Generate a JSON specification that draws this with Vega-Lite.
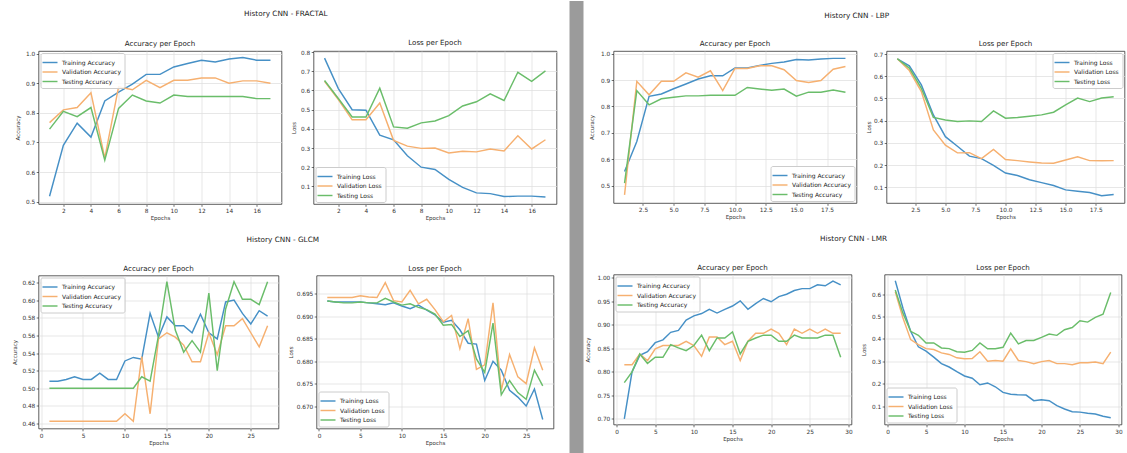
{
"$schema": "https://vega.github.io/schema/vega-lite/v6.json",
"background": "white",
"padding": {"left": 11.5, "top": 0, "right": 0, "bottom": 0},
"config": {
  "font": "DejaVu Sans",
  "view": {"stroke": "#333333", "strokeWidth": 0.8},
  "axis": {"labelFontSize": 5.8, "titleFontSize": 5.5, "titleFontWeight": "normal", "tickSize": 2.3, "labelPadding": 1.4, "titlePadding": 2, "domain": false, "gridColor": "#dddddd", "gridWidth": 0.7, "tickColor": "#333333", "tickWidth": 0.7, "labelColor": "#333333", "titleColor": "#333333", "labelFlush": false, "labelOverlap": false},
  "title": {"fontSize": 7.3, "fontWeight": "normal", "color": "#222222"},
  "legend": {"labelFontSize": 6, "labelColor": "#222222", "symbolType": "M-1.5,0H1.5", "symbolSize": 100, "symbolStrokeWidth": 1.4, "labelOffset": 6, "padding": 3.5, "rowPadding": 0.5, "fillColor": "rgba(255,255,255,0.85)", "strokeColor": "#cccccc", "cornerRadius": 2, "offset": 2},
  "line": {"strokeWidth": 1.45}
},
"datasets": {
"fractal_acc": [
{"epoch":1,"series":"Training","value":0.518},{"epoch":2,"series":"Training","value":0.69},{"epoch":3,"series":"Training","value":0.765},{"epoch":4,"series":"Training","value":0.718},{"epoch":5,"series":"Training","value":0.84},{"epoch":6,"series":"Training","value":0.87},{"epoch":7,"series":"Training","value":0.897},{"epoch":8,"series":"Training","value":0.93},{"epoch":9,"series":"Training","value":0.93},{"epoch":10,"series":"Training","value":0.955},{"epoch":11,"series":"Training","value":0.967},{"epoch":12,"series":"Training","value":0.978},{"epoch":13,"series":"Training","value":0.972},{"epoch":14,"series":"Training","value":0.982},{"epoch":15,"series":"Training","value":0.987},{"epoch":16,"series":"Training","value":0.978},{"epoch":17,"series":"Training","value":0.978},
{"epoch":1,"series":"Validation","value":0.767},{"epoch":2,"series":"Validation","value":0.81},{"epoch":3,"series":"Validation","value":0.818},{"epoch":4,"series":"Validation","value":0.868},{"epoch":5,"series":"Validation","value":0.647},{"epoch":6,"series":"Validation","value":0.888},{"epoch":7,"series":"Validation","value":0.878},{"epoch":8,"series":"Validation","value":0.91},{"epoch":9,"series":"Validation","value":0.885},{"epoch":10,"series":"Validation","value":0.91},{"epoch":11,"series":"Validation","value":0.91},{"epoch":12,"series":"Validation","value":0.918},{"epoch":13,"series":"Validation","value":0.918},{"epoch":14,"series":"Validation","value":0.9},{"epoch":15,"series":"Validation","value":0.908},{"epoch":16,"series":"Validation","value":0.908},{"epoch":17,"series":"Validation","value":0.9},
{"epoch":1,"series":"Testing","value":0.745},{"epoch":2,"series":"Testing","value":0.805},{"epoch":3,"series":"Testing","value":0.787},{"epoch":4,"series":"Testing","value":0.818},{"epoch":5,"series":"Testing","value":0.64},{"epoch":6,"series":"Testing","value":0.815},{"epoch":7,"series":"Testing","value":0.86},{"epoch":8,"series":"Testing","value":0.84},{"epoch":9,"series":"Testing","value":0.833},{"epoch":10,"series":"Testing","value":0.86},{"epoch":11,"series":"Testing","value":0.855},{"epoch":12,"series":"Testing","value":0.855},{"epoch":13,"series":"Testing","value":0.855},{"epoch":14,"series":"Testing","value":0.855},{"epoch":15,"series":"Testing","value":0.855},{"epoch":16,"series":"Testing","value":0.848},{"epoch":17,"series":"Testing","value":0.848}
],
"fractal_loss": [
{"epoch":1,"series":"Training","value":0.769},{"epoch":2,"series":"Training","value":0.61},{"epoch":3,"series":"Training","value":0.5},{"epoch":4,"series":"Training","value":0.497},{"epoch":5,"series":"Training","value":0.367},{"epoch":6,"series":"Training","value":0.343},{"epoch":7,"series":"Training","value":0.26},{"epoch":8,"series":"Training","value":0.2},{"epoch":9,"series":"Training","value":0.188},{"epoch":10,"series":"Training","value":0.136},{"epoch":11,"series":"Training","value":0.095},{"epoch":12,"series":"Training","value":0.066},{"epoch":13,"series":"Training","value":0.062},{"epoch":14,"series":"Training","value":0.047},{"epoch":15,"series":"Training","value":0.049},{"epoch":16,"series":"Training","value":0.049},{"epoch":17,"series":"Training","value":0.045},
{"epoch":1,"series":"Validation","value":0.648},{"epoch":2,"series":"Validation","value":0.553},{"epoch":3,"series":"Validation","value":0.447},{"epoch":4,"series":"Validation","value":0.447},{"epoch":5,"series":"Validation","value":0.535},{"epoch":6,"series":"Validation","value":0.34},{"epoch":7,"series":"Validation","value":0.31},{"epoch":8,"series":"Validation","value":0.298},{"epoch":9,"series":"Validation","value":0.3},{"epoch":10,"series":"Validation","value":0.274},{"epoch":11,"series":"Validation","value":0.283},{"epoch":12,"series":"Validation","value":0.28},{"epoch":13,"series":"Validation","value":0.295},{"epoch":14,"series":"Validation","value":0.285},{"epoch":15,"series":"Validation","value":0.364},{"epoch":16,"series":"Validation","value":0.295},{"epoch":17,"series":"Validation","value":0.343},
{"epoch":1,"series":"Testing","value":0.652},{"epoch":2,"series":"Testing","value":0.558},{"epoch":3,"series":"Testing","value":0.462},{"epoch":4,"series":"Testing","value":0.462},{"epoch":5,"series":"Testing","value":0.612},{"epoch":6,"series":"Testing","value":0.41},{"epoch":7,"series":"Testing","value":0.403},{"epoch":8,"series":"Testing","value":0.431},{"epoch":9,"series":"Testing","value":0.441},{"epoch":10,"series":"Testing","value":0.469},{"epoch":11,"series":"Testing","value":0.519},{"epoch":12,"series":"Testing","value":0.541},{"epoch":13,"series":"Testing","value":0.583},{"epoch":14,"series":"Testing","value":0.548},{"epoch":15,"series":"Testing","value":0.695},{"epoch":16,"series":"Testing","value":0.648},{"epoch":17,"series":"Testing","value":0.702}
],
"lbp_acc": [
{"epoch":1,"series":"Training","value":0.553},{"epoch":2,"series":"Training","value":0.667},{"epoch":3,"series":"Training","value":0.838},{"epoch":4,"series":"Training","value":0.847},{"epoch":5,"series":"Training","value":0.867},{"epoch":6,"series":"Training","value":0.885},{"epoch":7,"series":"Training","value":0.904},{"epoch":8,"series":"Training","value":0.916},{"epoch":9,"series":"Training","value":0.916},{"epoch":10,"series":"Training","value":0.946},{"epoch":11,"series":"Training","value":0.946},{"epoch":12,"series":"Training","value":0.955},{"epoch":13,"series":"Training","value":0.963},{"epoch":14,"series":"Training","value":0.968},{"epoch":15,"series":"Training","value":0.978},{"epoch":16,"series":"Training","value":0.976},{"epoch":17,"series":"Training","value":0.98},{"epoch":18,"series":"Training","value":0.982},{"epoch":19,"series":"Training","value":0.982},
{"epoch":1,"series":"Validation","value":0.465},{"epoch":2,"series":"Validation","value":0.895},{"epoch":3,"series":"Validation","value":0.844},{"epoch":4,"series":"Validation","value":0.895},{"epoch":5,"series":"Validation","value":0.895},{"epoch":6,"series":"Validation","value":0.927},{"epoch":7,"series":"Validation","value":0.911},{"epoch":8,"series":"Validation","value":0.935},{"epoch":9,"series":"Validation","value":0.86},{"epoch":10,"series":"Validation","value":0.944},{"epoch":11,"series":"Validation","value":0.944},{"epoch":12,"series":"Validation","value":0.954},{"epoch":13,"series":"Validation","value":0.954},{"epoch":14,"series":"Validation","value":0.939},{"epoch":15,"series":"Validation","value":0.898},{"epoch":16,"series":"Validation","value":0.891},{"epoch":17,"series":"Validation","value":0.898},{"epoch":18,"series":"Validation","value":0.941},{"epoch":19,"series":"Validation","value":0.951},
{"epoch":1,"series":"Testing","value":0.509},{"epoch":2,"series":"Testing","value":0.86},{"epoch":3,"series":"Testing","value":0.806},{"epoch":4,"series":"Testing","value":0.829},{"epoch":5,"series":"Testing","value":0.835},{"epoch":6,"series":"Testing","value":0.84},{"epoch":7,"series":"Testing","value":0.84},{"epoch":8,"series":"Testing","value":0.842},{"epoch":9,"series":"Testing","value":0.842},{"epoch":10,"series":"Testing","value":0.842},{"epoch":11,"series":"Testing","value":0.872},{"epoch":12,"series":"Testing","value":0.866},{"epoch":13,"series":"Testing","value":0.861},{"epoch":14,"series":"Testing","value":0.866},{"epoch":15,"series":"Testing","value":0.839},{"epoch":16,"series":"Testing","value":0.854},{"epoch":17,"series":"Testing","value":0.854},{"epoch":18,"series":"Testing","value":0.862},{"epoch":19,"series":"Testing","value":0.854}
],
"lbp_loss": [
{"epoch":1,"series":"Training","value":0.679},{"epoch":2,"series":"Training","value":0.647},{"epoch":3,"series":"Training","value":0.561},{"epoch":4,"series":"Training","value":0.426},{"epoch":5,"series":"Training","value":0.328},{"epoch":6,"series":"Training","value":0.285},{"epoch":7,"series":"Training","value":0.24},{"epoch":8,"series":"Training","value":0.229},{"epoch":9,"series":"Training","value":0.199},{"epoch":10,"series":"Training","value":0.164},{"epoch":11,"series":"Training","value":0.153},{"epoch":12,"series":"Training","value":0.134},{"epoch":13,"series":"Training","value":0.121},{"epoch":14,"series":"Training","value":0.108},{"epoch":15,"series":"Training","value":0.088},{"epoch":16,"series":"Training","value":0.082},{"epoch":17,"series":"Training","value":0.076},{"epoch":18,"series":"Training","value":0.062},{"epoch":19,"series":"Training","value":0.067},
{"epoch":1,"series":"Validation","value":0.679},{"epoch":2,"series":"Validation","value":0.626},{"epoch":3,"series":"Validation","value":0.531},{"epoch":4,"series":"Validation","value":0.358},{"epoch":5,"series":"Validation","value":0.29},{"epoch":6,"series":"Validation","value":0.255},{"epoch":7,"series":"Validation","value":0.256},{"epoch":8,"series":"Validation","value":0.229},{"epoch":9,"series":"Validation","value":0.27},{"epoch":10,"series":"Validation","value":0.225},{"epoch":11,"series":"Validation","value":0.22},{"epoch":12,"series":"Validation","value":0.214},{"epoch":13,"series":"Validation","value":0.209},{"epoch":14,"series":"Validation","value":0.208},{"epoch":15,"series":"Validation","value":0.223},{"epoch":16,"series":"Validation","value":0.237},{"epoch":17,"series":"Validation","value":0.22},{"epoch":18,"series":"Validation","value":0.219},{"epoch":19,"series":"Validation","value":0.22},
{"epoch":1,"series":"Testing","value":0.679},{"epoch":2,"series":"Testing","value":0.637},{"epoch":3,"series":"Testing","value":0.546},{"epoch":4,"series":"Testing","value":0.415},{"epoch":5,"series":"Testing","value":0.403},{"epoch":6,"series":"Testing","value":0.396},{"epoch":7,"series":"Testing","value":0.399},{"epoch":8,"series":"Testing","value":0.396},{"epoch":9,"series":"Testing","value":0.444},{"epoch":10,"series":"Testing","value":0.411},{"epoch":11,"series":"Testing","value":0.414},{"epoch":12,"series":"Testing","value":0.42},{"epoch":13,"series":"Testing","value":0.426},{"epoch":14,"series":"Testing","value":0.438},{"epoch":15,"series":"Testing","value":0.471},{"epoch":16,"series":"Testing","value":0.502},{"epoch":17,"series":"Testing","value":0.486},{"epoch":18,"series":"Testing","value":0.502},{"epoch":19,"series":"Testing","value":0.508}
],
"glcm_acc": [
{"epoch":1,"series":"Training","value":0.508},{"epoch":2,"series":"Training","value":0.508},{"epoch":3,"series":"Training","value":0.51},{"epoch":4,"series":"Training","value":0.513},{"epoch":5,"series":"Training","value":0.51},{"epoch":6,"series":"Training","value":0.51},{"epoch":7,"series":"Training","value":0.517},{"epoch":8,"series":"Training","value":0.51},{"epoch":9,"series":"Training","value":0.51},{"epoch":10,"series":"Training","value":0.531},{"epoch":11,"series":"Training","value":0.535},{"epoch":12,"series":"Training","value":0.533},{"epoch":13,"series":"Training","value":0.585},{"epoch":14,"series":"Training","value":0.558},{"epoch":15,"series":"Training","value":0.581},{"epoch":16,"series":"Training","value":0.571},{"epoch":17,"series":"Training","value":0.571},{"epoch":18,"series":"Training","value":0.563},{"epoch":19,"series":"Training","value":0.584},{"epoch":20,"series":"Training","value":0.563},{"epoch":21,"series":"Training","value":0.556},{"epoch":22,"series":"Training","value":0.598},{"epoch":23,"series":"Training","value":0.6},{"epoch":24,"series":"Training","value":0.585},{"epoch":25,"series":"Training","value":0.573},{"epoch":26,"series":"Training","value":0.588},{"epoch":27,"series":"Training","value":0.582},
{"epoch":1,"series":"Validation","value":0.4625},{"epoch":2,"series":"Validation","value":0.4625},{"epoch":3,"series":"Validation","value":0.4625},{"epoch":4,"series":"Validation","value":0.4625},{"epoch":5,"series":"Validation","value":0.4625},{"epoch":6,"series":"Validation","value":0.4625},{"epoch":7,"series":"Validation","value":0.4625},{"epoch":8,"series":"Validation","value":0.4625},{"epoch":9,"series":"Validation","value":0.4625},{"epoch":10,"series":"Validation","value":0.471},{"epoch":11,"series":"Validation","value":0.4625},{"epoch":12,"series":"Validation","value":0.536},{"epoch":13,"series":"Validation","value":0.471},{"epoch":14,"series":"Validation","value":0.556},{"epoch":15,"series":"Validation","value":0.563},{"epoch":16,"series":"Validation","value":0.558},{"epoch":17,"series":"Validation","value":0.549},{"epoch":18,"series":"Validation","value":0.53},{"epoch":19,"series":"Validation","value":0.53},{"epoch":20,"series":"Validation","value":0.563},{"epoch":21,"series":"Validation","value":0.538},{"epoch":22,"series":"Validation","value":0.571},{"epoch":23,"series":"Validation","value":0.571},{"epoch":24,"series":"Validation","value":0.579},{"epoch":25,"series":"Validation","value":0.563},{"epoch":26,"series":"Validation","value":0.547},{"epoch":27,"series":"Validation","value":0.571},
{"epoch":1,"series":"Testing","value":0.5},{"epoch":2,"series":"Testing","value":0.5},{"epoch":3,"series":"Testing","value":0.5},{"epoch":4,"series":"Testing","value":0.5},{"epoch":5,"series":"Testing","value":0.5},{"epoch":6,"series":"Testing","value":0.5},{"epoch":7,"series":"Testing","value":0.5},{"epoch":8,"series":"Testing","value":0.5},{"epoch":9,"series":"Testing","value":0.5},{"epoch":10,"series":"Testing","value":0.5},{"epoch":11,"series":"Testing","value":0.5},{"epoch":12,"series":"Testing","value":0.513},{"epoch":13,"series":"Testing","value":0.508},{"epoch":14,"series":"Testing","value":0.56},{"epoch":15,"series":"Testing","value":0.621},{"epoch":16,"series":"Testing","value":0.566},{"epoch":17,"series":"Testing","value":0.541},{"epoch":18,"series":"Testing","value":0.554},{"epoch":19,"series":"Testing","value":0.541},{"epoch":20,"series":"Testing","value":0.608},{"epoch":21,"series":"Testing","value":0.52},{"epoch":22,"series":"Testing","value":0.59},{"epoch":23,"series":"Testing","value":0.621},{"epoch":24,"series":"Testing","value":0.601},{"epoch":25,"series":"Testing","value":0.601},{"epoch":26,"series":"Testing","value":0.595},{"epoch":27,"series":"Testing","value":0.621}
],
"glcm_loss": [
{"epoch":1,"series":"Training","value":0.6934},{"epoch":2,"series":"Training","value":0.6932},{"epoch":3,"series":"Training","value":0.6932},{"epoch":4,"series":"Training","value":0.6932},{"epoch":5,"series":"Training","value":0.6932},{"epoch":6,"series":"Training","value":0.693},{"epoch":7,"series":"Training","value":0.6928},{"epoch":8,"series":"Training","value":0.6926},{"epoch":9,"series":"Training","value":0.693},{"epoch":10,"series":"Training","value":0.6923},{"epoch":11,"series":"Training","value":0.6917},{"epoch":12,"series":"Training","value":0.6925},{"epoch":13,"series":"Training","value":0.6914},{"epoch":14,"series":"Training","value":0.6903},{"epoch":15,"series":"Training","value":0.6887},{"epoch":16,"series":"Training","value":0.6891},{"epoch":17,"series":"Training","value":0.687},{"epoch":18,"series":"Training","value":0.684},{"epoch":19,"series":"Training","value":0.6838},{"epoch":20,"series":"Training","value":0.6757},{"epoch":21,"series":"Training","value":0.68},{"epoch":22,"series":"Training","value":0.678},{"epoch":23,"series":"Training","value":0.6735},{"epoch":24,"series":"Training","value":0.672},{"epoch":25,"series":"Training","value":0.67},{"epoch":26,"series":"Training","value":0.6738},{"epoch":27,"series":"Training","value":0.667},
{"epoch":1,"series":"Validation","value":0.6942},{"epoch":2,"series":"Validation","value":0.6942},{"epoch":3,"series":"Validation","value":0.6942},{"epoch":4,"series":"Validation","value":0.6942},{"epoch":5,"series":"Validation","value":0.6946},{"epoch":6,"series":"Validation","value":0.6943},{"epoch":7,"series":"Validation","value":0.6942},{"epoch":8,"series":"Validation","value":0.6975},{"epoch":9,"series":"Validation","value":0.6935},{"epoch":10,"series":"Validation","value":0.6932},{"epoch":11,"series":"Validation","value":0.6958},{"epoch":12,"series":"Validation","value":0.6928},{"epoch":13,"series":"Validation","value":0.6938},{"epoch":14,"series":"Validation","value":0.6915},{"epoch":15,"series":"Validation","value":0.6888},{"epoch":16,"series":"Validation","value":0.6902},{"epoch":17,"series":"Validation","value":0.6828},{"epoch":18,"series":"Validation","value":0.6895},{"epoch":19,"series":"Validation","value":0.6782},{"epoch":20,"series":"Validation","value":0.6792},{"epoch":21,"series":"Validation","value":0.693},{"epoch":22,"series":"Validation","value":0.6735},{"epoch":23,"series":"Validation","value":0.6815},{"epoch":24,"series":"Validation","value":0.6765},{"epoch":25,"series":"Validation","value":0.675},{"epoch":26,"series":"Validation","value":0.683},{"epoch":27,"series":"Validation","value":0.678},
{"epoch":1,"series":"Testing","value":0.6934},{"epoch":2,"series":"Testing","value":0.6932},{"epoch":3,"series":"Testing","value":0.693},{"epoch":4,"series":"Testing","value":0.693},{"epoch":5,"series":"Testing","value":0.6932},{"epoch":6,"series":"Testing","value":0.693},{"epoch":7,"series":"Testing","value":0.693},{"epoch":8,"series":"Testing","value":0.694},{"epoch":9,"series":"Testing","value":0.6932},{"epoch":10,"series":"Testing","value":0.6925},{"epoch":11,"series":"Testing","value":0.6928},{"epoch":12,"series":"Testing","value":0.692},{"epoch":13,"series":"Testing","value":0.6915},{"epoch":14,"series":"Testing","value":0.6905},{"epoch":15,"series":"Testing","value":0.688},{"epoch":16,"series":"Testing","value":0.6882},{"epoch":17,"series":"Testing","value":0.6855},{"epoch":18,"series":"Testing","value":0.6868},{"epoch":19,"series":"Testing","value":0.6805},{"epoch":20,"series":"Testing","value":0.6775},{"epoch":21,"series":"Testing","value":0.6885},{"epoch":22,"series":"Testing","value":0.6725},{"epoch":23,"series":"Testing","value":0.6757},{"epoch":24,"series":"Testing","value":0.673},{"epoch":25,"series":"Testing","value":0.6715},{"epoch":26,"series":"Testing","value":0.678},{"epoch":27,"series":"Testing","value":0.6745}
],
"lmr_acc": [
{"epoch":1,"series":"Training","value":0.7},{"epoch":2,"series":"Training","value":0.8},{"epoch":3,"series":"Training","value":0.835},{"epoch":4,"series":"Training","value":0.843},{"epoch":5,"series":"Training","value":0.862},{"epoch":6,"series":"Training","value":0.868},{"epoch":7,"series":"Training","value":0.884},{"epoch":8,"series":"Training","value":0.888},{"epoch":9,"series":"Training","value":0.91},{"epoch":10,"series":"Training","value":0.919},{"epoch":11,"series":"Training","value":0.924},{"epoch":12,"series":"Training","value":0.933},{"epoch":13,"series":"Training","value":0.925},{"epoch":14,"series":"Training","value":0.933},{"epoch":15,"series":"Training","value":0.94},{"epoch":16,"series":"Training","value":0.951},{"epoch":17,"series":"Training","value":0.933},{"epoch":18,"series":"Training","value":0.945},{"epoch":19,"series":"Training","value":0.956},{"epoch":20,"series":"Training","value":0.949},{"epoch":21,"series":"Training","value":0.96},{"epoch":22,"series":"Training","value":0.965},{"epoch":23,"series":"Training","value":0.973},{"epoch":24,"series":"Training","value":0.977},{"epoch":25,"series":"Training","value":0.977},{"epoch":26,"series":"Training","value":0.985},{"epoch":27,"series":"Training","value":0.983},{"epoch":28,"series":"Training","value":0.993},{"epoch":29,"series":"Training","value":0.985},
{"epoch":1,"series":"Validation","value":0.815},{"epoch":2,"series":"Validation","value":0.815},{"epoch":3,"series":"Validation","value":0.838},{"epoch":4,"series":"Validation","value":0.824},{"epoch":5,"series":"Validation","value":0.849},{"epoch":6,"series":"Validation","value":0.856},{"epoch":7,"series":"Validation","value":0.856},{"epoch":8,"series":"Validation","value":0.856},{"epoch":9,"series":"Validation","value":0.865},{"epoch":10,"series":"Validation","value":0.856},{"epoch":11,"series":"Validation","value":0.833},{"epoch":12,"series":"Validation","value":0.874},{"epoch":13,"series":"Validation","value":0.874},{"epoch":14,"series":"Validation","value":0.858},{"epoch":15,"series":"Validation","value":0.865},{"epoch":16,"series":"Validation","value":0.824},{"epoch":17,"series":"Validation","value":0.865},{"epoch":18,"series":"Validation","value":0.882},{"epoch":19,"series":"Validation","value":0.882},{"epoch":20,"series":"Validation","value":0.891},{"epoch":21,"series":"Validation","value":0.882},{"epoch":22,"series":"Validation","value":0.858},{"epoch":23,"series":"Validation","value":0.891},{"epoch":24,"series":"Validation","value":0.882},{"epoch":25,"series":"Validation","value":0.891},{"epoch":26,"series":"Validation","value":0.882},{"epoch":27,"series":"Validation","value":0.891},{"epoch":28,"series":"Validation","value":0.882},{"epoch":29,"series":"Validation","value":0.882},
{"epoch":1,"series":"Testing","value":0.777},{"epoch":2,"series":"Testing","value":0.8},{"epoch":3,"series":"Testing","value":0.838},{"epoch":4,"series":"Testing","value":0.818},{"epoch":5,"series":"Testing","value":0.831},{"epoch":6,"series":"Testing","value":0.831},{"epoch":7,"series":"Testing","value":0.858},{"epoch":8,"series":"Testing","value":0.851},{"epoch":9,"series":"Testing","value":0.845},{"epoch":10,"series":"Testing","value":0.856},{"epoch":11,"series":"Testing","value":0.878},{"epoch":12,"series":"Testing","value":0.845},{"epoch":13,"series":"Testing","value":0.872},{"epoch":14,"series":"Testing","value":0.872},{"epoch":15,"series":"Testing","value":0.885},{"epoch":16,"series":"Testing","value":0.838},{"epoch":17,"series":"Testing","value":0.865},{"epoch":18,"series":"Testing","value":0.872},{"epoch":19,"series":"Testing","value":0.878},{"epoch":20,"series":"Testing","value":0.878},{"epoch":21,"series":"Testing","value":0.865},{"epoch":22,"series":"Testing","value":0.865},{"epoch":23,"series":"Testing","value":0.878},{"epoch":24,"series":"Testing","value":0.872},{"epoch":25,"series":"Testing","value":0.872},{"epoch":26,"series":"Testing","value":0.872},{"epoch":27,"series":"Testing","value":0.878},{"epoch":28,"series":"Testing","value":0.878},{"epoch":29,"series":"Testing","value":0.831}
],
"lmr_loss": [
{"epoch":1,"series":"Training","value":0.659},{"epoch":2,"series":"Training","value":0.537},{"epoch":3,"series":"Training","value":0.434},{"epoch":4,"series":"Training","value":0.365},{"epoch":5,"series":"Training","value":0.346},{"epoch":6,"series":"Training","value":0.319},{"epoch":7,"series":"Training","value":0.29},{"epoch":8,"series":"Training","value":0.275},{"epoch":9,"series":"Training","value":0.254},{"epoch":10,"series":"Training","value":0.235},{"epoch":11,"series":"Training","value":0.225},{"epoch":12,"series":"Training","value":0.196},{"epoch":13,"series":"Training","value":0.204},{"epoch":14,"series":"Training","value":0.187},{"epoch":15,"series":"Training","value":0.162},{"epoch":16,"series":"Training","value":0.154},{"epoch":17,"series":"Training","value":0.151},{"epoch":18,"series":"Training","value":0.15},{"epoch":19,"series":"Training","value":0.125},{"epoch":20,"series":"Training","value":0.129},{"epoch":21,"series":"Training","value":0.125},{"epoch":22,"series":"Training","value":0.103},{"epoch":23,"series":"Training","value":0.088},{"epoch":24,"series":"Training","value":0.076},{"epoch":25,"series":"Training","value":0.074},{"epoch":26,"series":"Training","value":0.069},{"epoch":27,"series":"Training","value":0.066},{"epoch":28,"series":"Training","value":0.056},{"epoch":29,"series":"Training","value":0.049},
{"epoch":1,"series":"Validation","value":0.61},{"epoch":2,"series":"Validation","value":0.493},{"epoch":3,"series":"Validation","value":0.397},{"epoch":4,"series":"Validation","value":0.375},{"epoch":5,"series":"Validation","value":0.357},{"epoch":6,"series":"Validation","value":0.353},{"epoch":7,"series":"Validation","value":0.338},{"epoch":8,"series":"Validation","value":0.331},{"epoch":9,"series":"Validation","value":0.316},{"epoch":10,"series":"Validation","value":0.312},{"epoch":11,"series":"Validation","value":0.313},{"epoch":12,"series":"Validation","value":0.343},{"epoch":13,"series":"Validation","value":0.301},{"epoch":14,"series":"Validation","value":0.304},{"epoch":15,"series":"Validation","value":0.301},{"epoch":16,"series":"Validation","value":0.356},{"epoch":17,"series":"Validation","value":0.304},{"epoch":18,"series":"Validation","value":0.299},{"epoch":19,"series":"Validation","value":0.29},{"epoch":20,"series":"Validation","value":0.299},{"epoch":21,"series":"Validation","value":0.304},{"epoch":22,"series":"Validation","value":0.29},{"epoch":23,"series":"Validation","value":0.29},{"epoch":24,"series":"Validation","value":0.285},{"epoch":25,"series":"Validation","value":0.294},{"epoch":26,"series":"Validation","value":0.294},{"epoch":27,"series":"Validation","value":0.297},{"epoch":28,"series":"Validation","value":0.29},{"epoch":29,"series":"Validation","value":0.341},
{"epoch":1,"series":"Testing","value":0.618},{"epoch":2,"series":"Testing","value":0.515},{"epoch":3,"series":"Testing","value":0.434},{"epoch":4,"series":"Testing","value":0.416},{"epoch":5,"series":"Testing","value":0.382},{"epoch":6,"series":"Testing","value":0.382},{"epoch":7,"series":"Testing","value":0.36},{"epoch":8,"series":"Testing","value":0.357},{"epoch":9,"series":"Testing","value":0.343},{"epoch":10,"series":"Testing","value":0.341},{"epoch":11,"series":"Testing","value":0.349},{"epoch":12,"series":"Testing","value":0.382},{"epoch":13,"series":"Testing","value":0.356},{"epoch":14,"series":"Testing","value":0.356},{"epoch":15,"series":"Testing","value":0.363},{"epoch":16,"series":"Testing","value":0.426},{"epoch":17,"series":"Testing","value":0.378},{"epoch":18,"series":"Testing","value":0.393},{"epoch":19,"series":"Testing","value":0.393},{"epoch":20,"series":"Testing","value":0.407},{"epoch":21,"series":"Testing","value":0.422},{"epoch":22,"series":"Testing","value":0.416},{"epoch":23,"series":"Testing","value":0.441},{"epoch":24,"series":"Testing","value":0.451},{"epoch":25,"series":"Testing","value":0.481},{"epoch":26,"series":"Testing","value":0.475},{"epoch":27,"series":"Testing","value":0.496},{"epoch":28,"series":"Testing","value":0.51},{"epoch":29,"series":"Testing","value":0.607}
],
"separator": [{"left": 0, "right": 1, "bottom": 0, "top": 1}]
},
"spacing": 12,
"resolve": {"scale": {"color": "independent"}, "legend": {"color": "independent"}},
"hconcat": [
 {
  "spacing": 13.5,
  "resolve": {"scale": {"color": "independent"}, "legend": {"color": "independent"}},
  "vconcat": [
   {
    "title": {"text": ["", "History CNN - FRACTAL"], "lineHeight": 10, "offset": 20.5, "anchor": "middle"},
    "spacing": 8,
    "resolve": {"scale": {"color": "independent"}, "legend": {"color": "independent"}},
    "hconcat": [
     {
      "width": 243, "height": 153,
      "title": {"text": "Accuracy per Epoch", "frame": "group", "offset": 3.5, "fontSize": 7.1},
      "data": {"name": "fractal_acc"},
      "mark": {"type": "line"},
      "encoding": {
       "x": {"field": "epoch", "type": "quantitative", "scale": {"domain": [0.2, 17.8], "nice": false, "zero": false}, "axis": {"title": "Epochs", "values": [2,4,6,8,10,12,14,16]}},
       "y": {"field": "value", "type": "quantitative", "scale": {"domain": [0.492, 1.009], "nice": false, "zero": false}, "axis": {"title": "Accuracy", "values": [0.5,0.6,0.7,0.8,0.9,1.0], "format": ".1f", "minExtent": 16.5, "maxExtent": 16.5}},
       "color": {"field": "series", "type": "nominal", "scale": {"domain": ["Training","Validation","Testing"], "range": ["#4690c6","#f6b070","#6abd6a"]}, "legend": {"title": null, "orient": "top-left", "labelExpr": "datum.label + ' Accuracy'"}}
      }
     },
     {
      "width": 243, "height": 153,
      "title": {"text": "Loss per Epoch", "frame": "group", "offset": 3.5, "fontSize": 7.1},
      "data": {"name": "fractal_loss"},
      "mark": {"type": "line"},
      "encoding": {
       "x": {"field": "epoch", "type": "quantitative", "scale": {"domain": [0.2, 17.8], "nice": false, "zero": false}, "axis": {"title": "Epochs", "values": [2,4,6,8,10,12,14,16]}},
       "y": {"field": "value", "type": "quantitative", "scale": {"domain": [0.008, 0.806], "nice": false, "zero": false}, "axis": {"title": "Loss", "values": [0.1,0.2,0.3,0.4,0.5,0.6,0.7,0.8], "format": ".1f", "minExtent": 15.5, "maxExtent": 15.5}},
       "color": {"field": "series", "type": "nominal", "scale": {"domain": ["Training","Validation","Testing"], "range": ["#4690c6","#f6b070","#6abd6a"]}, "legend": {"title": null, "orient": "bottom-left", "labelExpr": "datum.label + ' Loss'"}}
      }
     }
    ]
   },
   {
    "title": {"text": "History CNN - GLCM", "offset": 21, "anchor": "middle"},
    "spacing": 8,
    "resolve": {"scale": {"color": "independent"}, "legend": {"color": "independent"}},
    "hconcat": [
     {
      "width": 240, "height": 153,
      "title": {"text": "Accuracy per Epoch", "frame": "group", "offset": 3.5, "fontSize": 7.1},
      "data": {"name": "glcm_acc"},
      "mark": {"type": "line"},
      "encoding": {
       "x": {"field": "epoch", "type": "quantitative", "scale": {"domain": [-0.3, 28.3], "nice": false, "zero": false}, "axis": {"title": "Epochs", "values": [0,5,10,15,20,25]}},
       "y": {"field": "value", "type": "quantitative", "scale": {"domain": [0.4543, 0.628], "nice": false, "zero": false}, "axis": {"title": "Accuracy", "values": [0.46,0.48,0.5,0.52,0.54,0.56,0.58,0.6,0.62], "format": ".2f", "minExtent": 19.5, "maxExtent": 19.5}},
       "color": {"field": "series", "type": "nominal", "scale": {"domain": ["Training","Validation","Testing"], "range": ["#4690c6","#f6b070","#6abd6a"]}, "legend": {"title": null, "orient": "top-left", "labelExpr": "datum.label + ' Accuracy'"}}
      }
     },
     {
      "width": 237, "height": 153,
      "title": {"text": "Loss per Epoch", "frame": "group", "offset": 3.5, "fontSize": 7.1},
      "data": {"name": "glcm_loss"},
      "mark": {"type": "line"},
      "encoding": {
       "x": {"field": "epoch", "type": "quantitative", "scale": {"domain": [-0.3, 28.3], "nice": false, "zero": false}, "axis": {"title": "Epochs", "values": [0,5,10,15,20,25]}},
       "y": {"field": "value", "type": "quantitative", "scale": {"domain": [0.665, 0.6991], "nice": false, "zero": false}, "axis": {"title": "Loss", "values": [0.67,0.675,0.68,0.685,0.69,0.695], "format": ".3f", "minExtent": 21.5, "maxExtent": 21.5}},
       "color": {"field": "series", "type": "nominal", "scale": {"domain": ["Training","Validation","Testing"], "range": ["#4690c6","#f6b070","#6abd6a"]}, "legend": {"title": null, "orient": "bottom-left", "labelExpr": "datum.label + ' Loss'"}}
      }
     }
    ]
   }
  ]
 },
 {
  "spacing": 1,
  "resolve": {"scale": {"color": "independent"}, "legend": {"color": "independent"}},
  "hconcat": [
   {
    "width": 14, "height": 403,
    "view": {"stroke": null},
    "data": {"name": "separator"},
    "mark": {"type": "rect", "color": "#9b9b9b"},
    "encoding": {
     "x": {"field": "left", "type": "quantitative", "scale": {"domain": [0, 1], "nice": false, "zero": false}, "axis": null},
     "x2": {"field": "right"},
     "y": {"field": "bottom", "type": "quantitative", "scale": {"domain": [0, 0.8896], "nice": false, "zero": false}, "axis": null},
     "y2": {"field": "top"}
    }
   },
   {
    "spacing": 13.5,
    "resolve": {"scale": {"color": "independent"}, "legend": {"color": "independent"}},
    "vconcat": [
     {
      "title": {"text": ["", "History CNN - LBP"], "lineHeight": 10, "offset": 20.5, "anchor": "middle"},
      "spacing": 8,
      "resolve": {"scale": {"color": "independent"}, "legend": {"color": "independent"}},
      "hconcat": [
       {
        "width": 243, "height": 152,
        "title": {"text": "Accuracy per Epoch", "frame": "group", "offset": 3.5, "fontSize": 7.1},
        "data": {"name": "lbp_acc"},
        "mark": {"type": "line"},
        "encoding": {
         "x": {"field": "epoch", "type": "quantitative", "scale": {"domain": [0.1, 19.9], "nice": false, "zero": false}, "axis": {"title": "Epochs", "values": [2.5,5,7.5,10,12.5,15,17.5], "format": ".1f"}},
         "y": {"field": "value", "type": "quantitative", "scale": {"domain": [0.434, 1.01], "nice": false, "zero": false}, "axis": {"title": "Accuracy", "values": [0.5,0.6,0.7,0.8,0.9,1.0], "format": ".1f", "minExtent": 17.5, "maxExtent": 17.5}},
         "color": {"field": "series", "type": "nominal", "scale": {"domain": ["Training","Validation","Testing"], "range": ["#4690c6","#f6b070","#6abd6a"]}, "legend": {"title": null, "orient": "bottom-right", "labelExpr": "datum.label + ' Accuracy'"}}
        }
       },
       {
        "width": 238, "height": 152,
        "title": {"text": "Loss per Epoch", "frame": "group", "offset": 3.5, "fontSize": 7.1},
        "data": {"name": "lbp_loss"},
        "mark": {"type": "line"},
        "encoding": {
         "x": {"field": "epoch", "type": "quantitative", "scale": {"domain": [0.1, 19.9], "nice": false, "zero": false}, "axis": {"title": "Epochs", "values": [2.5,5,7.5,10,12.5,15,17.5], "format": ".1f"}},
         "y": {"field": "value", "type": "quantitative", "scale": {"domain": [0.029, 0.714], "nice": false, "zero": false}, "axis": {"title": "Loss", "values": [0.1,0.2,0.3,0.4,0.5,0.6,0.7], "format": ".1f", "minExtent": 13, "maxExtent": 13}},
         "color": {"field": "series", "type": "nominal", "scale": {"domain": ["Training","Validation","Testing"], "range": ["#4690c6","#f6b070","#6abd6a"]}, "legend": {"title": null, "orient": "top-right", "labelExpr": "datum.label + ' Loss'"}}
        }
       }
      ]
     },
     {
      "title": {"text": "History CNN - LMR", "offset": 21, "anchor": "middle"},
      "spacing": 8,
      "resolve": {"scale": {"color": "independent"}, "legend": {"color": "independent"}},
      "hconcat": [
       {
        "width": 238, "height": 150,
        "title": {"text": "Accuracy per Epoch", "frame": "group", "offset": 3.5, "fontSize": 7.1},
        "data": {"name": "lmr_acc"},
        "mark": {"type": "line"},
        "encoding": {
         "x": {"field": "epoch", "type": "quantitative", "scale": {"domain": [-0.4, 30.4], "nice": false, "zero": false}, "axis": {"title": "Epochs", "values": [0,5,10,15,20,25,30]}},
         "y": {"field": "value", "type": "quantitative", "scale": {"domain": [0.688, 1.007], "nice": false, "zero": false}, "axis": {"title": "Accuracy", "values": [0.7,0.75,0.8,0.85,0.9,0.95,1.0], "format": ".2f", "minExtent": 21.5, "maxExtent": 21.5}},
         "color": {"field": "series", "type": "nominal", "scale": {"domain": ["Training","Validation","Testing"], "range": ["#4690c6","#f6b070","#6abd6a"]}, "legend": {"title": null, "orient": "top-left", "labelExpr": "datum.label + ' Accuracy'"}}
        }
       },
       {
        "width": 237, "height": 150,
        "title": {"text": "Loss per Epoch", "frame": "group", "offset": 3.5, "fontSize": 7.1},
        "data": {"name": "lmr_loss"},
        "mark": {"type": "line"},
        "encoding": {
         "x": {"field": "epoch", "type": "quantitative", "scale": {"domain": [-0.4, 30.4], "nice": false, "zero": false}, "axis": {"title": "Epochs", "values": [0,5,10,15,20,25,30]}},
         "y": {"field": "value", "type": "quantitative", "scale": {"domain": [0.019, 0.687], "nice": false, "zero": false}, "axis": {"title": "Loss", "values": [0.1,0.2,0.3,0.4,0.5,0.6], "format": ".1f", "minExtent": 16.5, "maxExtent": 16.5}},
         "color": {"field": "series", "type": "nominal", "scale": {"domain": ["Training","Validation","Testing"], "range": ["#4690c6","#f6b070","#6abd6a"]}, "legend": {"title": null, "orient": "bottom-left", "labelExpr": "datum.label + ' Loss'"}}
        }
       }
      ]
     }
    ]
   }
  ]
 }
]
}
